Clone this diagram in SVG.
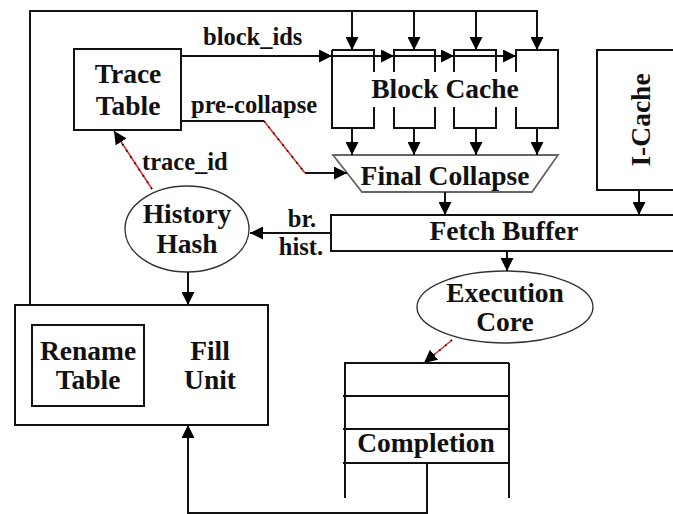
<svg xmlns="http://www.w3.org/2000/svg" width="673" height="514" viewBox="0 0 673 514">
<style>
.ln{fill:none;stroke:#111;stroke-width:2}
.box{fill:none;stroke:#111;stroke-width:2}
.ell{fill:none;stroke:#333;stroke-width:1.4}
.trap{fill:none;stroke:#666;stroke-width:1.8}
.red{fill:none;stroke:#e03030;stroke-width:1.6}
.dot{fill:none;stroke:#000;stroke-width:1.6;stroke-dasharray:1.5 6}
.t{font-family:"Liberation Serif","Times New Roman",serif;font-weight:bold;font-size:27.5px;fill:#111;text-anchor:middle}
.s{font-family:"Liberation Serif","Times New Roman",serif;font-weight:bold;font-size:24.5px;fill:#111}
.m{text-anchor:middle}
</style>
<defs>
<marker id="ah" viewBox="0 0 10 10" refX="10" refY="5" markerWidth="13" markerHeight="13" markerUnits="userSpaceOnUse" orient="auto">
<path d="M0,0 L10,5 L0,10 z" fill="#000"/>
</marker>
</defs>
<rect width="673" height="514" fill="#fff"/>

<g id="trace-table">
<rect class="box" x="74" y="49" width="107" height="81"/>
<text class="t" x="128" y="83">Trace</text>
<text class="t" x="128" y="115">Table</text>
</g>

<g id="block-cache">
<path class="ln" d="M332,50 V128 H374 V107 M332,50 H374 V72"/>
<path class="ln" d="M394,72 V50 H435 V72 M394,107 V128 H435 V107"/>
<path class="ln" d="M454,72 V50 H496 V72 M454,107 V128 H496 V107"/>
<path class="ln" d="M516,72 V50 H558 V128 H516 V107"/>
<text class="t" x="445" y="98">Block Cache</text>
</g>

<g id="final-collapse">
<polygon class="trap" points="333,155 558,155 532,192 362,192"/>
<text class="t" x="445" y="185">Final Collapse</text>
</g>

<g id="i-cache">
<path class="box" d="M680,50 H597 V190 H680"/>
<text class="t" transform="translate(650,120) rotate(-90)" x="0" y="0">I-Cache</text>
</g>

<g id="fetch-buffer">
<path class="box" d="M680,215 H331 V251 H680"/>
<text class="t" x="504" y="240">Fetch Buffer</text>
</g>

<g id="history-hash">
<ellipse class="ell" cx="187" cy="229" rx="62" ry="43"/>
<text class="t" x="187" y="223">History</text>
<text class="t" x="187" y="253">Hash</text>
</g>

<g id="execution-core">
<ellipse class="ell" cx="505" cy="307" rx="88" ry="36"/>
<text class="t" x="505" y="302">Execution</text>
<text class="t" x="505" y="331">Core</text>
</g>

<g id="fill-unit">
<rect class="box" x="15" y="305" width="253" height="120"/>
<text class="t" x="210" y="360">Fill</text>
<text class="t" x="210" y="389">Unit</text>
</g>

<g id="rename-table">
<rect class="box" x="32" y="325" width="112" height="81"/>
<text class="t" x="88" y="360">Rename</text>
<text class="t" x="88" y="389">Table</text>
</g>

<g id="completion">
<path class="ln" d="M345,362 V498 M509,363 V498 M345,363 H509 M343,396 H509 M343,429 H509 M343,463 H509"/>
<text class="t" x="426" y="452">Completion</text>
</g>

<g id="connectors">
<path class="ln" d="M30,305 V11 H538"/>
<path class="ln" d="M352,11 V50" marker-end="url(#ah)"/>
<path class="ln" d="M414,11 V50" marker-end="url(#ah)"/>
<path class="ln" d="M476,11 V50" marker-end="url(#ah)"/>
<path class="ln" d="M537,11 V50" marker-end="url(#ah)"/>

<path class="ln" d="M181,56 H332" marker-end="url(#ah)"/>
<path class="ln" d="M332,56 H374"/>
<path class="ln" d="M374,56 H394" marker-end="url(#ah)"/>
<path class="ln" d="M394,56 H435"/>
<path class="ln" d="M435,56 H454" marker-end="url(#ah)"/>
<path class="ln" d="M454,56 H496"/>
<path class="ln" d="M496,56 H516" marker-end="url(#ah)"/>

<path class="ln" d="M352,128 V155" marker-end="url(#ah)"/>
<path class="ln" d="M414,128 V155" marker-end="url(#ah)"/>
<path class="ln" d="M476,128 V155" marker-end="url(#ah)"/>
<path class="ln" d="M537,128 V155" marker-end="url(#ah)"/>

<path class="ln" d="M181,121 H264"/>
<path class="red" d="M264,121 L305,173"/>
<path class="dot" d="M264,121 L305,173"/>
<path class="ln" d="M305,173 H347" marker-end="url(#ah)"/>

<path class="red" d="M152,189 L114,131" marker-end="url(#ah)"/>
<path class="dot" d="M152,189 L117,136"/>

<path class="ln" d="M331,233 H250" marker-end="url(#ah)"/>
<path class="ln" d="M188,272 V305" marker-end="url(#ah)"/>
<path class="ln" d="M445,192 V215" marker-end="url(#ah)"/>
<path class="ln" d="M639,190 V215" marker-end="url(#ah)"/>
<path class="ln" d="M507,251 V271" marker-end="url(#ah)"/>

<path class="red" d="M452,340 L424,363" marker-end="url(#ah)"/>
<path class="dot" d="M452,340 L428,360"/>

<path class="ln" d="M427,463 V513 H188 V425" marker-end="url(#ah)"/>

<text class="s" x="203" y="45">block_ids</text>
<text class="s" x="191" y="113">pre-collapse</text>
<text class="s" x="142" y="170">trace_id</text>
<text class="s m" x="302" y="227">br.</text>
<text class="s m" x="301" y="255">hist.</text>
</g>
</svg>
